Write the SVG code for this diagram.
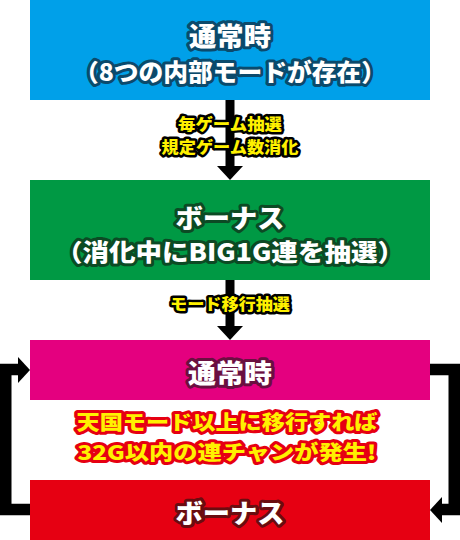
<svg xmlns="http://www.w3.org/2000/svg" width="460" height="540" viewBox="0 0 460 540">
<style>
text{font-family:"Noto Sans CJK JP","Noto Sans",sans-serif;font-weight:900;text-anchor:middle;dominant-baseline:central;paint-order:stroke;stroke-linejoin:round}
.t{fill:#fff;stroke-width:6}
.b{stroke:#0b4a6c}
.g{stroke:#0c4a24}
.m{stroke:#6a0f40}
.r{stroke:#6a0c10}
.lab{fill:#fff100;stroke:#000;stroke-width:5;font-size:16px}
.hot{fill:#fff100;stroke:#e60012;stroke-width:6;font-size:20px}
.ln{fill:none;stroke:#000;stroke-width:11.5;stroke-linejoin:miter}
</style>
<g id="connectors">
<rect x="225.5" y="100" width="9" height="67" fill="#000"/>
<polygon points="217,166 243,166 230,180" fill="#000"/>
<rect x="225.5" y="280" width="9" height="47" fill="#000"/>
<polygon points="217,326 243,326 230,340" fill="#000"/>
<path class="ln" d="M30,509.5 H5.75 V369.5 H20"/>
<polygon points="18,357 30,370 18,383" fill="#000"/>
<path class="ln" d="M430,369.5 H454.25 V509.5 H440"/>
<polygon points="442,497 430,510 442,523" fill="#000"/>
<text class="lab" x="230" y="123" textLength="104" lengthAdjust="spacingAndGlyphs">毎ゲーム抽選</text>
<text class="lab" x="230" y="146" textLength="137" lengthAdjust="spacingAndGlyphs">規定ゲーム数消化</text>
<text class="lab" x="230" y="303" textLength="120" lengthAdjust="spacingAndGlyphs">モード移行抽選</text>
</g>
<g id="normal-top">
<rect x="30" y="0" width="400" height="100" fill="#00a0e9"/>
<text class="t b" x="230" y="34" font-size="26" textLength="82" lengthAdjust="spacingAndGlyphs">通常時</text>
<text class="t b" x="230" y="70.5" font-size="24" textLength="312" lengthAdjust="spacingAndGlyphs">（8つの内部モードが存在）</text>
</g>
<g id="bonus-top">
<rect x="30" y="180" width="400" height="100" fill="#009944"/>
<text class="t g" x="230" y="216" font-size="26" textLength="109" lengthAdjust="spacingAndGlyphs">ボーナス</text>
<text class="t g" x="230" y="250" font-size="24" textLength="348" lengthAdjust="spacingAndGlyphs">（消化中にBIG1G連を抽選）</text>
</g>
<g id="normal-loop">
<rect x="30" y="340" width="400" height="60" fill="#e4007f"/>
<text class="t m" x="230" y="371" font-size="26" textLength="84" lengthAdjust="spacingAndGlyphs">通常時</text>
</g>
<g id="note">
<text class="hot" x="227" y="421.5" textLength="301" lengthAdjust="spacingAndGlyphs">天国モード以上に移行すれば</text>
<text class="hot" x="227" y="451" textLength="299" lengthAdjust="spacingAndGlyphs">32G以内の連チャンが発生!</text>
</g>
<g id="bonus-loop">
<rect x="30" y="480" width="400" height="60" fill="#e60012"/>
<text class="t r" x="230" y="511" font-size="26" textLength="109" lengthAdjust="spacingAndGlyphs">ボーナス</text>
</g>
</svg>
